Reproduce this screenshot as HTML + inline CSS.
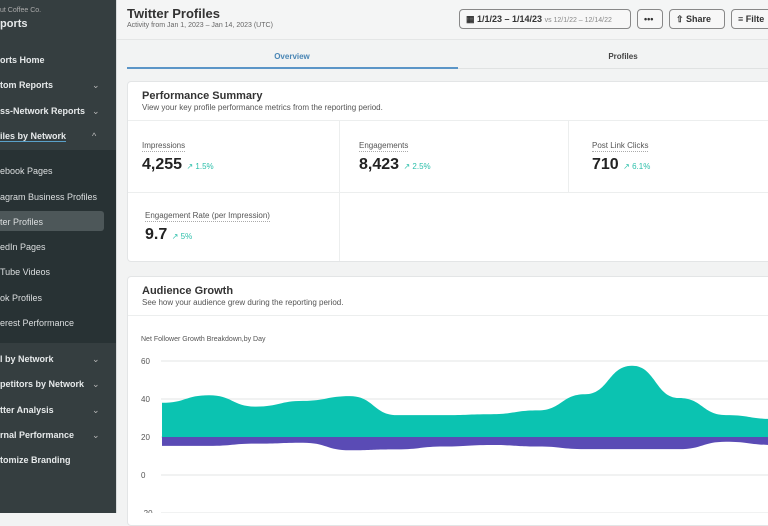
<!DOCTYPE html>
<html><head><meta charset="utf-8"><style>
*{box-sizing:border-box;margin:0;padding:0}
body{width:768px;height:513px;overflow:hidden;font-family:"Liberation Sans",sans-serif;background:#f2f3f3;position:relative}
#sb{position:absolute;left:0;top:0;width:116px;height:513px;background:#353e40;color:#e6e9ea;font-size:9px;font-weight:bold}
#sb .it{position:absolute;left:0;white-space:nowrap}
#sb .chev{position:absolute;left:92px;font-weight:normal;color:#bbb;font-size:9px}
#sub{position:absolute;left:0;top:150px;width:116px;height:193px;background:#283234}
#sub .it{font-weight:normal;color:#dcdfe0}
#main{position:absolute;left:116px;top:0;right:0;bottom:0;border-left:1px solid #d8dbdc}
.btn{position:absolute;top:9px;height:20px;border:1px solid #888;border-radius:4px;background:#f7f7f7;font-size:9px;font-weight:bold;color:#333;line-height:18px;padding:0 6px;white-space:nowrap}
.card{position:absolute;left:10px;width:660px;background:#fff;border-radius:4px;border:1px solid #e3e5e6}
.m{position:absolute;font-size:8px;color:#555}
.m .l{border-bottom:1px dotted #aaa;padding-bottom:1px;display:inline-block}
.m .v{font-size:16px;font-weight:bold;color:#222;margin-top:4px}
.m .v span{font-size:8px;color:#2bbfaa;font-weight:normal}
</style></head><body>
<div id="sb">
<div class="it" style="top:7px;font-weight:normal;font-size:7px;color:#aaa;left:0">ut Coffee Co.</div>
<div class="it" style="top:18px;font-size:11px">ports</div>
<div class="it" style="top:55px">orts Home</div>
<div class="it" style="top:80px">tom Reports</div><div class="chev" style="top:80px">&#8964;</div>
<div class="it" style="top:106px">ss-Network Reports</div><div class="chev" style="top:106px">&#8964;</div>
<div class="it" style="top:131px;border-bottom:1px solid #5aa0c8">iles by Network</div><div class="chev" style="top:131px">^</div>
<div id="sub">
<div class="it" style="top:16px">ebook Pages</div>
<div class="it" style="top:42px">agram Business Profiles</div>
<div style="position:absolute;left:0;top:61px;width:104px;height:20px;background:#4d5759;border-radius:0 3px 3px 0"></div>
<div class="it" style="top:67px">ter Profiles</div>
<div class="it" style="top:92px">edIn Pages</div>
<div class="it" style="top:117px">Tube Videos</div>
<div class="it" style="top:143px">ok Profiles</div>
<div class="it" style="top:168px">erest Performance</div>
</div>
<div class="it" style="top:354px">l by Network</div><div class="chev" style="top:354px">&#8964;</div>
<div class="it" style="top:379px">petitors by Network</div><div class="chev" style="top:379px">&#8964;</div>
<div class="it" style="top:405px">tter Analysis</div><div class="chev" style="top:405px">&#8964;</div>
<div class="it" style="top:430px">rnal Performance</div><div class="chev" style="top:430px">&#8964;</div>
<div class="it" style="top:455px">tomize Branding</div>
</div>
<div id="main">
<div style="position:absolute;left:0;top:0;right:0;height:40px;background:#f4f5f5;border-bottom:1px solid #e4e6e6"></div>
<div style="position:absolute;left:10px;top:6px;font-size:13px;font-weight:bold;color:#333">Twitter Profiles</div>
<div style="position:absolute;left:10px;top:22px;font-size:7px;color:#666">Activity from Jan 1, 2023 – Jan 14, 2023 (UTC)</div>
<div class="btn" style="left:342px;width:172px">&#9638; 1/1/23 – 1/14/23 <span style="font-weight:normal;font-size:7px;color:#888">vs 12/1/22 – 12/14/22</span></div>
<div class="btn" style="left:520px;width:26px">•••</div>
<div class="btn" style="left:552px;width:56px">&#8679; Share</div>
<div class="btn" style="left:614px;width:60px">&#8801; Filte</div>
<div style="position:absolute;left:10px;top:52px;width:330px;text-align:center;font-size:8px;font-weight:bold;color:#4a86b5">Overview</div>
<div style="position:absolute;left:10px;top:67px;width:331px;height:2px;background:#5b95c7"></div>
<div style="position:absolute;left:341px;top:68px;right:0;height:1px;background:#e0e2e2"></div>
<div style="position:absolute;left:341px;top:52px;width:330px;text-align:center;font-size:8px;font-weight:bold;color:#444">Profiles</div>
<div class="card" style="top:81px;height:181px">
<div style="position:absolute;left:14px;top:8px;font-size:11px;font-weight:bold;color:#333">Performance Summary</div>
<div style="position:absolute;left:14px;top:21px;font-size:8px;color:#555">View your key profile performance metrics from the reporting period.</div>
<div style="position:absolute;left:0;right:0;top:38px;height:1px;background:#eceeee"></div>
<div style="position:absolute;left:0;right:0;top:110px;height:1px;background:#eceeee"></div>
<div style="position:absolute;left:211px;top:38px;bottom:0;width:1px;background:#eceeee"></div>
<div style="position:absolute;left:440px;top:38px;height:72px;width:1px;background:#eceeee"></div>
<div class="m" style="left:14px;top:59px"><div class="l">Impressions</div><div class="v">4,255 <span>&#8599; 1.5%</span></div></div>
<div class="m" style="left:231px;top:59px"><div class="l">Engagements</div><div class="v">8,423 <span>&#8599; 2.5%</span></div></div>
<div class="m" style="left:464px;top:59px"><div class="l">Post Link Clicks</div><div class="v">710 <span>&#8599; 6.1%</span></div></div>
<div class="m" style="left:17px;top:129px"><div class="l">Engagement Rate (per Impression)</div><div class="v">9.7 <span>&#8599; 5%</span></div></div>
</div>
<div class="card" style="top:276px;height:250px">
<div style="position:absolute;left:14px;top:8px;font-size:11px;font-weight:bold;color:#333">Audience Growth</div>
<div style="position:absolute;left:14px;top:21px;font-size:8px;color:#555">See how your audience grew during the reporting period.</div>
<div style="position:absolute;left:0;right:0;top:38px;height:1px;background:#eceeee"></div>
</div>
<svg id="chart" width="652" height="513" style="position:absolute;left:0;top:0"></svg>
</div>
<script>
const days=["Jan 1","Jan 2","Jan 3","Jan 4","Jan 5","Jan 6","Jan 7","Jan 8","Jan 9","Jan 10","Jan 11","Jan 12","Jan 13","Jan 14"];
const gainedTop=[38,42,36,39,41.5,31.5,31.5,32,34,42.5,57.5,40.5,31.5,29.5];
const lostBottom=[15.3,15.3,16.5,17,13,13.5,15,15.8,15,13.6,13.6,13.6,17.5,15.8];
const baseline=20;
const yTicks=[60,40,20,0,-20];
const NS="http://www.w3.org/2000/svg";
const svg=document.getElementById('chart');
const ox=116;
const xs=i=>161-ox+i*47;
const ys=v=>475-v*1.9;
function mk(t,a){const e=document.createElementNS(NS,t);for(const k in a)e.setAttribute(k,a[k]);svg.appendChild(e);return e;}
const ttl=mk('text',{x:24,y:341,'font-size':7,fill:'#555'});ttl.textContent="Net Follower Growth Breakdown,by Day";


yTicks.forEach(t=>{
 const g=mk('line',{x1:160-ox,x2:652,y1:ys(t),y2:ys(t),stroke:'#e3e5e6','stroke-width':1});
 
 
 const l=mk('text',{x:24,y:ys(t)+3,'font-size':8,fill:'#555'});l.textContent=t;
 
 
});
function smooth(pts){
 let d='';
 for(let i=0;i<pts.length;i++){
  const p=pts[i];
  if(i===0){d+=`M${p[0]},${p[1]}`;continue;}
  const q=pts[i-1];const mx=(p[0]-q[0])/2;
  d+=` C${q[0]+mx},${q[1]} ${p[0]-mx},${p[1]} ${p[0]},${p[1]}`;
 }
 return d;
}
const topPts=gainedTop.map((v,i)=>[xs(i),ys(v)]);
const tl=smooth(topPts);
const last=xs(days.length-1);
const teal=mk('path',{d:tl+` L${last},${ys(baseline)} L${xs(0)},${ys(baseline)} Z`,fill:'#0bc3b1'});


const botPts=lostBottom.map((v,i)=>[xs(i),ys(v)]);
const bl=smooth(botPts);
const purp=mk('path',{d:bl+` L${last},${ys(baseline)} L${xs(0)},${ys(baseline)} Z`,fill:'#5a4bb5'});


</script>
</body></html>
